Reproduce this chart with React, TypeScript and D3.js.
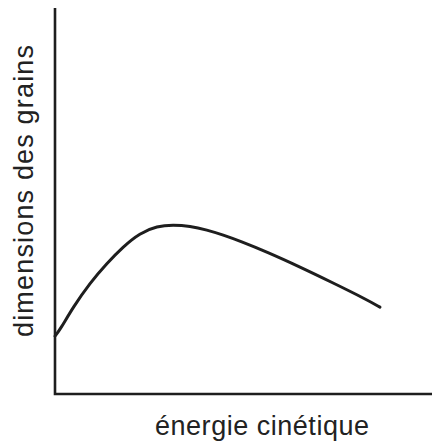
import React from "react";
import * as d3 from "d3";

const energy = [0, 1.3, 4.8, 9.3, 13.8, 18.0, 22.5, 27.1, 31.3, 35.8, 40.3, 44.6, 49.1, 56.2, 65.0, 73.7, 82.8, 86.2];
const grainSize = [15, 16.6, 22.5, 28.8, 33.9, 38.1, 41.7, 43.5, 43.8, 43.5, 42.5, 41.2, 39.6, 36.8, 32.9, 28.8, 24.4, 22.5];
const xLabel = "énergie cinétique";
const yLabel = "dimensions des grains";

export default function App() {
  const W = 436, H = 446;
  const x = d3.scaleLinear().domain([0, 100]).range([55, 432]);
  const y = d3.scaleLinear().domain([0, 100]).range([394, 8]);
  const data = energy.map((e, i) => [e, grainSize[i]] as [number, number]);
  const line = d3.line<[number, number]>()
    .x(d => x(d[0]))
    .y(d => y(d[1]))
    .curve(d3.curveBasis);
  const font = "'Liberation Sans', Arial, Helvetica, sans-serif";
  return (
    <svg width={W} height={H} style={{ position: "absolute", left: 0, top: 0, background: "#fff" }}>
      <path d={`M${x(0)},${y(100)}V${y(0)}H${x(100)}`} fill="none" stroke="#1e1e1e" strokeWidth={2.6} />
      <path d={line(data) || ""} fill="none" stroke="#1e1e1e" strokeWidth={3} strokeLinecap="round" />
      <text x={262} y={435} textAnchor="middle" fontFamily={font} fontSize={27} fill="#222"
        textLength={214} lengthAdjust="spacing">{xLabel}</text>
      <text transform="translate(33,191) rotate(-90)" textAnchor="middle" fontFamily={font} fontSize={27} fill="#222"
        textLength={292} lengthAdjust="spacing">{yLabel}</text>
    </svg>
  );
}
